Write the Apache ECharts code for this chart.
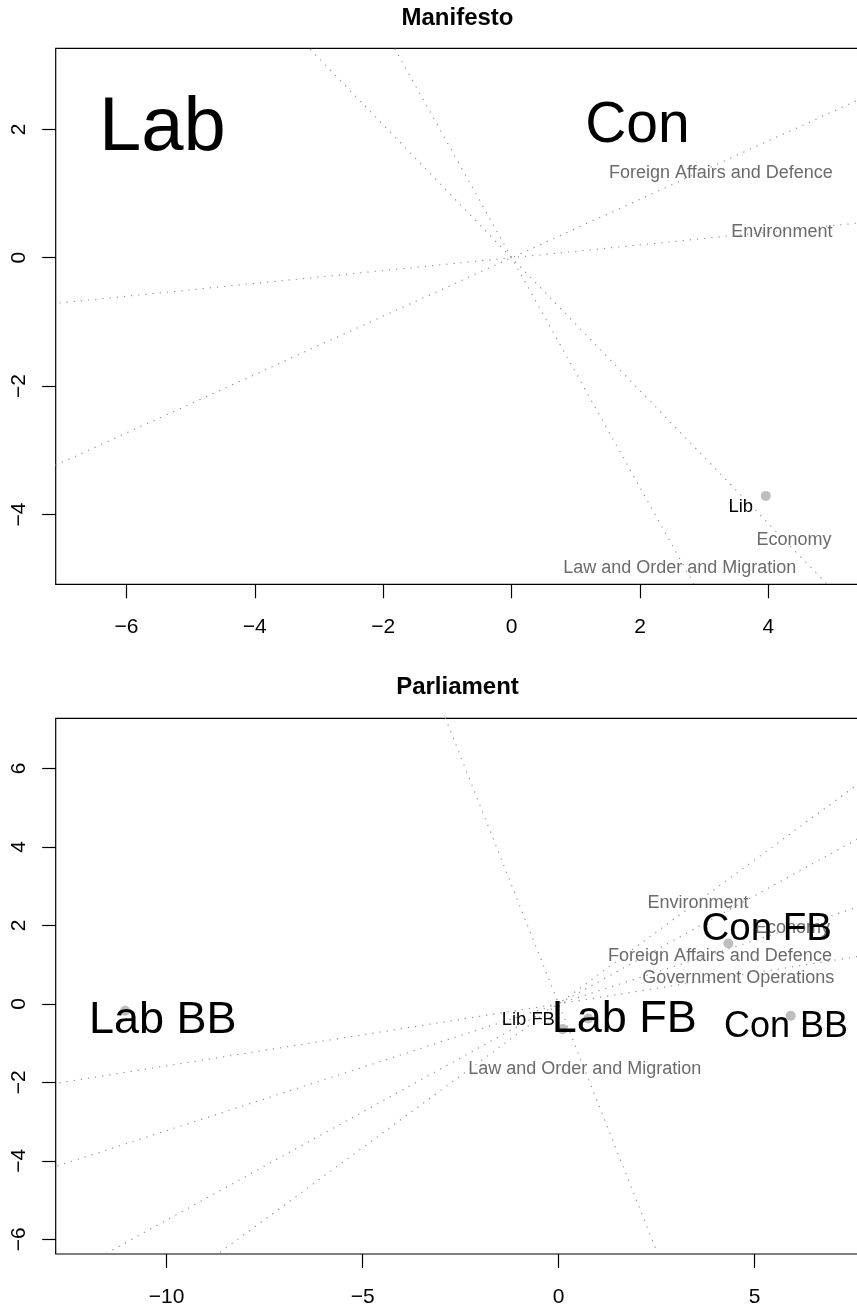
<!DOCTYPE html>
<html>
<head>
<meta charset="utf-8">
<script src="https://cdn.jsdelivr.net/npm/echarts@6/dist/echarts.min.js"></script>
<style>
  html, body { margin: 0; padding: 0; background: #ffffff; }
  #chart { width: 857px; height: 1309px; }
</style>
</head>
<body>
<div id="chart"></div>
<script>
// ---------- Manifesto panel ----------
const manifestoTopics = ['Foreign Affairs and Defence', 'Environment', 'Economy', 'Law and Order and Migration'];
// slope of each topic direction (line through the origin)
const manifestoTopicSlope = [0.455, 0.100, -1.035, -1.79];
const manifestoTopicLabelX = [3.26, 4.21, 4.40, 2.62];
const manifestoTopicLabelY = [1.315, 0.393, -4.39, -4.83];

const manifestoParties = ['Lab', 'Con', 'Lib'];
const manifestoPartyLabelX = [-5.44, 1.96, 3.57];
const manifestoPartyLabelY = [2.00, 2.05, -3.88];

const manifestoPointNames = ['Lib'];
const manifestoPointX = [3.96];
const manifestoPointY = [-3.71];

const manifestoXTicks = [-6, -4, -2, 0, 2, 4];
const manifestoYTicks = [-4, -2, 0, 2];

// ---------- Parliament panel ----------
const parliamentTopics = ['Environment', 'Economy', 'Foreign Affairs and Defence', 'Government Operations', 'Law and Order and Migration'];
const parliamentTopicSlope = [0.733, 0.323, 0.551, 0.158, -2.52];
const parliamentTopicLabelX = [3.556, 5.967, 4.117, 4.584, 0.668];
const parliamentTopicLabelY = [2.568, 1.932, 1.220, 0.660, -1.670];

const parliamentParties = ['Lab BB', 'Lab FB', 'Lib FB', 'Con FB', 'Con BB'];
const parliamentPartyLabelX = [-10.10, 1.673, -0.773, 5.31, 5.80];
const parliamentPartyLabelY = [-0.433, -0.392, -0.413, 1.90, -0.586];

const parliamentPointNames = ['Lab BB', 'Lab FB', 'Lib FB', 'Con FB', 'Con BB'];
const parliamentPointX = [-11.06, 0.758, 0.105, 4.33, 5.92];
const parliamentPointY = [-0.176, -0.372, -0.644, 1.536, -0.303];

const parliamentXTicks = [-10, -5, 0, 5];
const parliamentYTicks = [-6, -4, -2, 0, 2, 4, 6];

// ---------- styles ----------
const FONT = '"Liberation Sans", Arial, Helvetica, sans-serif';
const TICK_FONT = 21;
const TOPIC_FONT = 18;
const TOPIC_COLOR = '#6b6b6b';
const POINT_COLOR = '#bebebe';
const GUIDE_COLOR = '#8a8a8a';
const manifestoPartyFont = [76, 57, 18.5];
const parliamentPartyFont = [45, 45, 18.4, 38.5, 36];

const panels = [
  { title: 'Manifesto', titleY: 18, top: 48.3, height: 536,
    xMin: -7.101, xMax: 5.416, yMin: -5.087, yMax: 3.262,
    xTicks: manifestoXTicks, yTicks: manifestoYTicks,
    topics: manifestoTopics, slope: manifestoTopicSlope, tX: manifestoTopicLabelX, tY: manifestoTopicLabelY,
    parties: manifestoParties, pX: manifestoPartyLabelX, pY: manifestoPartyLabelY, pFont: manifestoPartyFont,
    ptNames: manifestoPointNames, ptX: manifestoPointX, ptY: manifestoPointY },
  { title: 'Parliament', titleY: 687, top: 718.3, height: 535.7,
    xMin: -12.83, xMax: 7.671, yMin: -6.374, yMax: 7.274,
    xTicks: parliamentXTicks, yTicks: parliamentYTicks,
    topics: parliamentTopics, slope: parliamentTopicSlope, tX: parliamentTopicLabelX, tY: parliamentTopicLabelY,
    parties: parliamentParties, pX: parliamentPartyLabelX, pY: parliamentPartyLabelY, pFont: parliamentPartyFont,
    ptNames: parliamentPointNames, ptX: parliamentPointX, ptY: parliamentPointY }
];

const fmt = v => (v < 0 ? '\u2212' + Math.abs(v) : String(v));

const grids = [], xAxes = [], yAxes = [], series = [], graphics = [];
const PLOT_LEFT = 55.7, PLOT_WIDTH = 803.6;

panels.forEach((p, i) => {
  grids.push({
    left: PLOT_LEFT, top: p.top, width: PLOT_WIDTH, height: p.height,
    show: true, borderColor: '#000', borderWidth: 1.2, backgroundColor: 'transparent',
    containLabel: false, outerBoundsMode: 'none'
  });
  xAxes.push({
    type: 'value', gridIndex: i, min: p.xMin, max: p.xMax, position: 'bottom',
    axisLine: { show: false, onZero: false }, splitLine: { show: false },
    axisTick: { show: true, inside: false, length: 14, customValues: p.xTicks,
                lineStyle: { color: '#000', width: 1.2 } },
    axisLabel: { show: true, customValues: p.xTicks, formatter: fmt, margin: 32.5,
                 fontFamily: FONT, fontSize: TICK_FONT, color: '#000' }
  });
  yAxes.push({
    type: 'value', gridIndex: i, min: p.yMin, max: p.yMax, position: 'left',
    axisLine: { show: false, onZero: false }, splitLine: { show: false },
    axisTick: { show: true, inside: false, length: 13.5, customValues: p.yTicks,
                lineStyle: { color: '#000', width: 1.2 } },
    axisLabel: { show: true, customValues: p.yTicks, formatter: fmt, rotate: 90,
                 align: 'center', verticalAlign: 'bottom', margin: 26.2,
                 fontFamily: FONT, fontSize: TICK_FONT, color: '#000' }
  });

  // dotted topic directions through the origin
  p.slope.forEach((s, k) => {
    const R = 100;
    series.push({
      type: 'line', name: p.topics[k], xAxisIndex: i, yAxisIndex: i,
      data: [[-R, -R * s], [R, R * s]],
      symbol: 'none', silent: true, clip: true, z: 1,
      lineStyle: { color: GUIDE_COLOR, width: 1.1, type: [1.2, 6], opacity: 1 }
    });
  });

  // party points
  series.push({
    type: 'scatter', xAxisIndex: i, yAxisIndex: i, z: 2, silent: true,
    symbol: 'circle', symbolSize: 10,
    itemStyle: { color: POINT_COLOR, opacity: 1 },
    data: p.ptX.map((x, k) => ({ name: p.ptNames[k], value: [x, p.ptY[k]] }))
  });

  // topic labels
  series.push({
    type: 'scatter', xAxisIndex: i, yAxisIndex: i, z: 3, silent: true,
    symbolSize: 0, itemStyle: { opacity: 1 },
    label: { show: true, position: 'inside', formatter: '{b}', opacity: 1,
             fontFamily: FONT, fontSize: TOPIC_FONT, color: TOPIC_COLOR },
    data: p.tX.map((x, k) => ({ name: p.topics[k], value: [x, p.tY[k]] }))
  });

  // party labels
  series.push({
    type: 'scatter', xAxisIndex: i, yAxisIndex: i, z: 4, silent: true,
    symbolSize: 0, itemStyle: { opacity: 1 },
    label: { show: true, position: 'inside', formatter: '{b}', opacity: 1,
             fontFamily: FONT, color: '#000' },
    data: p.pX.map((x, k) => ({ name: p.parties[k], value: [x, p.pY[k]],
                                label: { fontSize: p.pFont[k] } }))
  });

  graphics.push({
    type: 'text', x: 457.5, y: p.titleY, silent: true,
    style: { text: p.title, font: 'bold 24px ' + FONT, fill: '#000',
             textAlign: 'center', textVerticalAlign: 'middle' }
  });
});

const chart = echarts.init(document.getElementById('chart'), null, { renderer: 'canvas' });
chart.setOption({
  animation: false,
  backgroundColor: '#ffffff',
  grid: grids,
  xAxis: xAxes,
  yAxis: yAxes,
  series: series,
  graphic: graphics
});
</script>
</body>
</html>
